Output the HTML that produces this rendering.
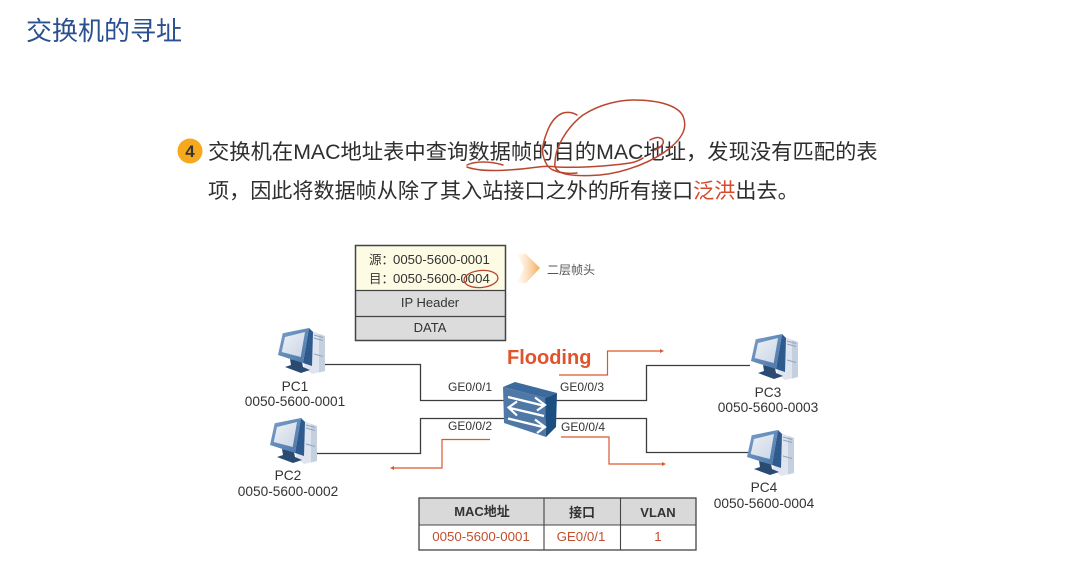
<!DOCTYPE html>
<html lang="zh-CN">
<head>
<meta charset="utf-8">
<title>交换机的寻址</title>
<style>
html,body{margin:0;padding:0;background:#fff;width:1080px;height:584px;overflow:hidden}
svg{display:block;filter:blur(.35px)}
text{font-family:"Liberation Sans","Noto Sans CJK SC",sans-serif;fill:#333}
</style>
</head>
<body>
<svg xmlns="http://www.w3.org/2000/svg" width="1080" height="584" viewBox="0 0 1080 584">
<defs>
<linearGradient id="chev" x1="0" x2="1" y1="0" y2="0">
<stop offset="0" stop-color="#fbd9b0" stop-opacity=".1"/>
<stop offset="1" stop-color="#f6a94f"/>
</linearGradient>
<linearGradient id="mon" x1="0" x2="1" y1="0" y2="1">
<stop offset="0" stop-color="#eef1f6"/>
<stop offset="1" stop-color="#c9d5e6"/>
</linearGradient>
<linearGradient id="frm" x1="0" x2="1" y1="0" y2="1">
<stop offset="0" stop-color="#7ba0ca"/>
<stop offset="1" stop-color="#4a76a8"/>
</linearGradient>
<g id="pc">
<polygon points="35,2 48,7 48,42 35,45 27,38" fill="#dfe5ee"/>
<polygon points="42,5 48,7 48,42 42,43.500" fill="#c5d0df"/>
<path d="M37 6l9 2.500M37 9l9 2.500M37 25l9 2.500" stroke="#8fa3bd" stroke-width="1"/>
<polygon points="13,30 25,33 26,38 33,41 24,44 8,38 14,36" fill="#2b4a72"/>
<polygon points="32,-1 36,3 35,37 26,34" fill="#2e5a8e"/>
<polygon points="5.700,4.300 32,-1 26,34 1,26" fill="url(#frm)"/>
<polygon points="8,8 28,3 23.700,28 4.700,23" fill="url(#mon)"/>
</g>
</defs>
<rect width="1080" height="584" fill="#fff"/>

<text x="26" y="40" font-size="26" style="fill:#2a5090">交换机的寻址</text>

<circle cx="190" cy="151" r="12.5" fill="#f6a91d"/>
<text x="190" y="157" font-size="17" font-weight="bold" text-anchor="middle" style="fill:#333">4</text>

<text x="208" y="159" font-size="21.300" style="fill:#2e2e2e">交换机在MAC地址表中查询数据帧的目的MAC地址，发现没有匹配的表</text>
<text x="208" y="198" font-size="21.100" style="fill:#2e2e2e">项，因此将数据帧从除了其入站接口之外的所有接口<tspan style="fill:#d9482b">泛洪</tspan>出去。</text>

<g fill="none" stroke="#b9472f" stroke-width="1.500" stroke-linecap="round">
<path d="M555 163C555 148 566 128 583 115C600 104 620 100 633 100C660 100 678 106 683 116C688 128 682 138 670 148C660 156 650 161 640 165C625 171 612 174 600 175C585 176 567 176 560 172C556 170 554 166 555 163"/>
<path d="M577 115C572 112 567 112 563 113C555 116 550 124 547 132C543 142 542 150 543 155C545 163 548 168 553 170C560 173 568 174 577 173"/>
<path d="M467 165C475 161 490 161 503 165"/>
<path d="M467 167C480 172 505 171 530 168C545 166 550 166 557 167C580 168 610 166 630 163C636 162 640 160 643 158"/>
<path d="M650 140C654 138 658 137 660 138C664 139 664 143 662 145C660 148 657 149 655 150"/>
</g>

<!-- frame -->
<rect x="355.500" y="245.500" width="150" height="45" fill="#fdfbe3"/>
<rect x="355.500" y="290.500" width="150" height="50" fill="#dcdcdc"/>
<rect x="355.500" y="245.500" width="150" height="95" fill="none" stroke="#444" stroke-width="1.500"/>
<path d="M355.500 290.500H505.500M355.500 316.500H505.500" stroke="#444" stroke-width="1.200"/>
<text x="369" y="264" font-size="12.500">源：</text>
<text x="393" y="264" font-size="13.200">0050-5600-0001</text>
<text x="369" y="283" font-size="12.500">目：</text>
<text x="393" y="283" font-size="13.200">0050-5600-0004</text>
<text x="430" y="307" font-size="13" text-anchor="middle">IP Header</text>
<text x="430" y="332" font-size="13" text-anchor="middle">DATA</text>
<ellipse cx="481" cy="279" rx="17" ry="8.500" fill="none" stroke="#b9472f" stroke-width="1.300" transform="rotate(-5 481 279)"/>
<polygon points="517,254 526,254 540,268 526,283 517,283 524,268" fill="url(#chev)"/>
<text x="547" y="274" font-size="12" style="fill:#555">二层帧头</text>

<!-- links -->
<g fill="none" stroke="#3c3c3c" stroke-width="1.300">
<path d="M325 364.500H420.500V400.500H506"/>
<path d="M317 453.500H420.500V418.500H506"/>
<path d="M556 400.500H646.500V365.500H750"/>
<path d="M556 418.500H646.500V452.500H748"/>
</g>

<!-- flood arrows -->
<g fill="none" stroke="#d9582f" stroke-width="1.200">
<path d="M559 375H607.500V351H661"/>
<path d="M561 437H609V464H663"/>
<path d="M490 439.500H442V468H393"/>
</g>
<g fill="#d9582f">
<polygon points="664,351 660,349 660,353"/>
<polygon points="666,464 662,462 662,466"/>
<polygon points="390,468 394,466 394,470"/>
</g>

<text x="507" y="364" font-size="20" font-weight="bold" style="fill:#e0532b">Flooding</text>

<!-- switch -->
<polygon points="503,387 515,382 557,393 545,398" fill="#3d6a9c"/>
<polygon points="503,387 545,398 546,437 504,423" fill="#5078a6"/>
<polygon points="545,398 557,393 556,427 546,437" fill="#1c4e80"/>
<g fill="none" stroke="#fff" stroke-width="2.200">
<path d="M508 397L543 405.500M535 397.500L545 405L537 410.500"/>
<path d="M510 408L544 416M517 401.500L508.500 407.500L517 415.500"/>
<path d="M508 418.500L543 427M535 419.500L545 427L537 433"/>
</g>

<g font-size="12">
<text x="448" y="391">GE0/0/1</text>
<text x="448" y="430">GE0/0/2</text>
<text x="560" y="391">GE0/0/3</text>
<text x="561" y="431">GE0/0/4</text>
</g>

<use href="#pc" x="277" y="329"/>
<use href="#pc" x="269" y="419"/>
<use href="#pc" x="750" y="335"/>
<use href="#pc" x="746" y="431"/>

<g font-size="13.700" text-anchor="middle">
<text x="295" y="391">PC1</text>
<text x="295" y="406">0050-5600-0001</text>
<text x="288" y="480">PC2</text>
<text x="288" y="496">0050-5600-0002</text>
<text x="768" y="397">PC3</text>
<text x="768" y="412">0050-5600-0003</text>
<text x="764" y="492">PC4</text>
<text x="764" y="508">0050-5600-0004</text>
</g>

<!-- table -->
<rect x="419" y="498" width="277" height="27" fill="#d9d9d9"/>
<rect x="419" y="525" width="277" height="25" fill="#fff"/>
<rect x="419" y="498" width="277" height="52" fill="none" stroke="#444" stroke-width="1.300"/>
<path d="M419 525H696M544 498V550M620.500 498V550" stroke="#444" stroke-width="1.100"/>
<g font-size="13" font-weight="bold" text-anchor="middle">
<text x="482" y="516">MAC地址</text>
<text x="582" y="517">接口</text>
<text x="658" y="517">VLAN</text>
</g>
<g font-size="13.300" text-anchor="middle">
<text x="481" y="541" style="fill:#c0502f">0050-5600-0001</text>
<text x="581" y="541" style="fill:#c0502f">GE0/0/1</text>
<text x="658" y="541" style="fill:#c0502f">1</text>
</g>
</svg>
</body>
</html>
